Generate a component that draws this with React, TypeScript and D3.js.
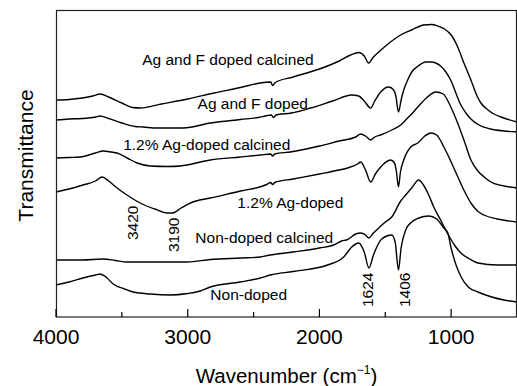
import React from "react";
import * as d3 from "d3";

// ---- data: [wavenumber (cm^-1), transmittance (a.u.)] ----
const agFCalcined: [number, number][] = [
  [4000, 217], [3900, 217.5], [3800, 219], [3720, 221], [3665, 223], [3600, 220], [3500, 214],
  [3420, 209.5], [3360, 209], [3200, 213], [3000, 218], [2800, 224], [2600, 229.5], [2450, 234],
  [2370, 235], [2355, 231.5], [2335, 234.5], [2200, 240], [2000, 248], [1850, 256], [1763, 262],
  [1700, 264.5], [1660, 261], [1626, 254], [1590, 260], [1558, 264], [1470, 274], [1383, 282],
  [1300, 287], [1208, 292], [1150, 292.5], [1101, 291], [1050, 288], [1000, 282], [950, 270],
  [903, 254], [850, 237], [800, 220], [774, 214], [720, 207], [675, 203], [600, 199], [500, 195],
];

const agF: [number, number][] = [
  [4000, 197], [3900, 198], [3800, 198.5], [3700, 200], [3665, 201], [3600, 198.5], [3500, 194],
  [3400, 190.5], [3338, 190], [3232, 189], [3034, 189], [2828, 194], [2600, 197.5], [2463, 199.5],
  [2395, 201.5], [2365, 202], [2349, 199.5], [2330, 202], [2212, 204], [2067, 209], [1900, 216],
  [1755, 222], [1702, 221], [1660, 216], [1611, 209], [1580, 216], [1535, 225], [1474, 230],
  [1436, 227], [1420, 221], [1400, 205], [1380, 217], [1360, 227], [1330, 237], [1299, 245],
  [1250, 251], [1193, 255], [1150, 255], [1117, 254], [1080, 251], [1040, 245], [1000, 236],
  [964, 224], [930, 213], [888, 204], [850, 198], [789, 192], [700, 188], [600, 186], [500, 185],
];

const agCalcined: [number, number][] = [
  [4000, 159], [3900, 159.5], [3817, 160], [3700, 164], [3642, 166], [3580, 165], [3536, 164],
  [3460, 159], [3384, 154], [3285, 151], [3150, 150.5], [3057, 151], [2828, 157], [2600, 160],
  [2448, 162], [2370, 163], [2355, 161], [2340, 163], [2220, 165], [2000, 171], [1850, 176],
  [1725, 180], [1687, 183], [1650, 181], [1611, 177], [1580, 180], [1535, 182], [1450, 187],
  [1383, 192], [1345, 197], [1300, 203], [1253, 210], [1180, 220], [1117, 225], [1060, 223],
  [1017, 214], [960, 197], [903, 177], [850, 157], [797, 146], [740, 139], [698, 135],
  [600, 131], [500, 129],
];

const agDoped: [number, number][] = [
  [4000, 125], [3900, 128], [3795, 132], [3700, 136], [3650, 140], [3600, 136], [3536, 129],
  [3450, 121], [3361, 114], [3250, 108], [3155, 104], [3117, 104], [3050, 109], [2980, 114],
  [2828, 119], [2600, 126], [2400, 132.5], [2370, 134.5], [2355, 132.5], [2340, 134.5],
  [2200, 138], [2000, 143], [1850, 147], [1786, 149], [1710, 153], [1687, 155], [1650, 147],
  [1611, 135], [1575, 143], [1535, 150], [1459, 157], [1430, 154], [1415, 145], [1400, 130],
  [1385, 145], [1360, 157], [1307, 170], [1253, 174], [1200, 181], [1154, 184], [1110, 182],
  [1055, 170], [1000, 155], [949, 140], [900, 126], [850, 114], [800, 106], [751, 102],
  [650, 98], [500, 95],
];

const nonDopedCalcined: [number, number][] = [
  [4000, 57], [3800, 57], [3642, 58], [3550, 56.5], [3460, 55], [3209, 55], [3003, 55],
  [2828, 57.5], [2600, 59], [2448, 60], [2395, 61.5], [2200, 65], [2000, 69], [1892, 72],
  [1832, 76], [1786, 77.5], [1725, 83], [1687, 84], [1650, 82], [1626, 79], [1590, 84],
  [1550, 89], [1500, 95], [1451, 100], [1383, 116], [1345, 122], [1300, 129], [1246, 137],
  [1210, 132], [1170, 122], [1132, 110], [1080, 97], [1025, 83], [970, 71], [926, 64],
  [860, 58], [797, 54], [650, 52], [500, 52],
];

const nonDoped: [number, number][] = [
  [4000, 32], [3900, 35], [3795, 39], [3700, 42], [3665, 43], [3620, 40], [3566, 33],
  [3480, 28], [3414, 25], [3285, 23], [3133, 22], [3000, 23.5], [2904, 26], [2828, 30],
  [2600, 35], [2448, 39], [2372, 42], [2200, 45.5], [1938, 52], [1816, 60], [1755, 70],
  [1702, 74], [1660, 65], [1624, 49], [1590, 62], [1527, 78], [1451, 82], [1425, 75],
  [1400, 47], [1380, 69], [1345, 87], [1300, 95], [1246, 99], [1170, 101], [1110, 98],
  [1055, 89], [1025, 84], [1002, 70], [960, 51], [920, 39], [870, 30], [797, 25],
  [691, 20], [600, 17], [500, 15],
];

const seriesList = [agFCalcined, agF, agCalcined, agDoped, nonDopedCalcined, nonDoped];

// curve labels: [text, wavenumber at text start, level of baseline]
const curveLabels: [string, number, number][] = [
  ["Ag and F doped calcined", 3346, 252],
  ["Ag and F doped", 2925, 208],
  ["1.2% Ag-doped calcined", 3490, 167],
  ["1.2% Ag-doped", 2623, 109],
  ["Non-doped calcined", 2942, 74],
  ["Non-doped", 2828, 17],
];

// band labels (rotated): [text, wavenumber of baseline, level of text start]
const bandLabels: [string, number, number][] = [
  ["3420", 3376, 77],
  ["3190", 3064, 65],
  ["1624", 1592, 10],
  ["1406", 1314, 10],
];

const majorTicks = [4000, 3000, 2000, 1000];
const minorTicks = [3500, 2500, 1500];

const W = 517;
const H = 386;
const left = 56;
const right = 517;
const top = 10;
const bottom = 317;

export default function App() {
  const x = d3.scaleLinear().domain([4000, 500]).range([left, right]);
  const y = d3.scaleLinear().domain([0, 307]).range([bottom, top]);
  const line = d3
    .line<[number, number]>()
    .x((d) => x(d[0]))
    .y((d) => y(d[1]))
    .curve(d3.curveMonotoneX);

  const font = "Arial, 'Liberation Sans', sans-serif";

  return (
    <svg
      width={W}
      height={H}
      style={{ position: "absolute", left: 0, top: 0, background: "#fff" }}
      fontFamily={font}
    >
      <rect x={0} y={0} width={W} height={H} fill="#fff" />
      <defs>
        <clipPath id="plotclip">
          <rect x={left} y={top} width={right - left} height={bottom - top} />
        </clipPath>
      </defs>
      <g clipPath="url(#plotclip)">
        {seriesList.map((s, i) => (
          <path key={i} d={line(s) || ""} fill="none" stroke="#000" strokeWidth={1.4} strokeLinejoin="round" />
        ))}
      </g>
      {/* frame */}
      <rect
        x={left + 0.5}
        y={top + 0.5}
        width={right - left - 1}
        height={bottom - top - 0.5}
        fill="none"
        stroke="#222"
        strokeWidth={1.2}
      />
      {/* ticks */}
      {majorTicks.map((t) => (
        <line key={"M" + t} x1={x(t)} x2={x(t)} y1={bottom} y2={bottom - 8} stroke="#000" strokeWidth={1.2} />
      ))}
      {minorTicks.map((t) => (
        <line key={"m" + t} x1={x(t)} x2={x(t)} y1={bottom} y2={bottom - 5} stroke="#000" strokeWidth={1.2} />
      ))}
      {majorTicks.map((t) => (
        <text key={"L" + t} x={x(t)} y={344} fontSize={21} textAnchor="middle" fill="#000">
          {t}
        </text>
      ))}
      {/* axis titles */}
      <text x={(left + right) / 2} y={383} fontSize={20.5} textAnchor="middle" fill="#000">
        Wavenumber (cm
        <tspan fontSize={12} dy={-9}>−1</tspan>
        <tspan dy={9}>)</tspan>
      </text>
      <text
        transform={`translate(33, 155.5) rotate(-90)`}
        fontSize={21}
        textAnchor="middle"
        fill="#000"
      >
        Transmittance
      </text>
      {/* curve labels */}
      {curveLabels.map(([t, w, v]) => (
        <text key={t} x={x(w)} y={y(v)} fontSize={15.5} fill="#000">
          {t}
        </text>
      ))}
      {bandLabels.map(([t, w, v]) => (
        <text
          key={t}
          transform={`translate(${x(w)}, ${y(v)}) rotate(-90)`}
          fontSize={15.5}
          fill="#000"
        >
          {t}
        </text>
      ))}
    </svg>
  );
}
